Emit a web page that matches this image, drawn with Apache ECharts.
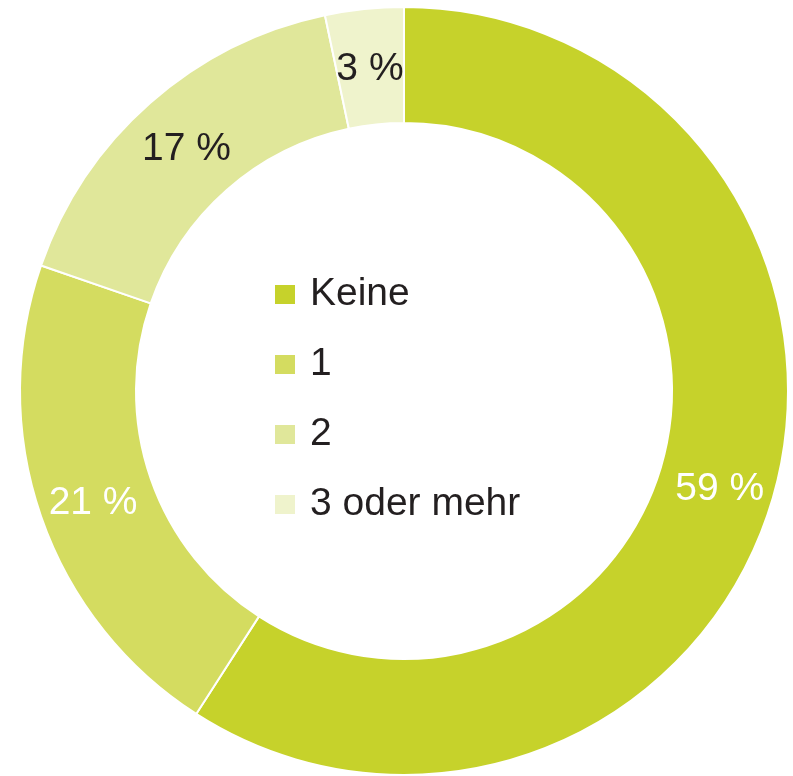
<!DOCTYPE html>
<html>
<head>
<meta charset="utf-8">
<script src="https://cdn.jsdelivr.net/npm/echarts@6/dist/echarts.min.js"></script>
<style>
  html, body { margin: 0; padding: 0; background: #fff; }
  #chart { width: 793px; height: 776px; }
</style>
</head>
<body>
<div id="chart"></div>
<script>
// Daten aus der Vorlage
const categories = ['Keine', '1', '2', '3 oder mehr'];
const shares = [59.1, 21.2, 16.4, 3.3];
// gedruckte Beschriftungen (gerundete Prozentwerte)
const printedPercent = [59, 21, 17, 3];
// Farben der Segmente
const palette = ['#c6d22b', '#d4dc60', '#e0e79a', '#eff3cc'];
const labelColors = ['#ffffff', '#ffffff', '#231f20', '#231f20'];

const myChart = echarts.init(document.getElementById('chart'));

const option = {
  animation: false,
  color: palette,
  legend: {
    orient: 'vertical',
    left: 273,
    top: 275,
    padding: 0,
    itemWidth: 22,
    itemHeight: 21,
    itemGap: 31,
    icon: 'rect',
    data: categories,
    textStyle: {
      fontFamily: 'Liberation Sans, Arial, sans-serif',
      fontSize: 39,
      lineHeight: 39,
      color: '#231f20',
      padding: [0, 0, 0, 9]
    },
    selectedMode: false
  },
  series: [{
    type: 'pie',
    center: [404, 391],
    radius: [268, 384],
    startAngle: 90,
    clockwise: true,
    avoidLabelOverlap: false,
    itemStyle: {
      borderColor: '#ffffff',
      borderWidth: 2
    },
    label: {
      show: true,
      position: 'inside',
      offset: [0, 5],
      formatter: function (p) {
        return printedPercent[p.dataIndex] + ' %';
      },
      fontFamily: 'Liberation Sans, Arial, sans-serif',
      fontSize: 39
    },
    labelLine: { show: false },
    emphasis: { disabled: true },
    data: categories.map((name, i) => ({
      name: name,
      value: shares[i],
      label: { color: labelColors[i] }
    }))
  }]
};

myChart.setOption(option);
</script>
</body>
</html>
